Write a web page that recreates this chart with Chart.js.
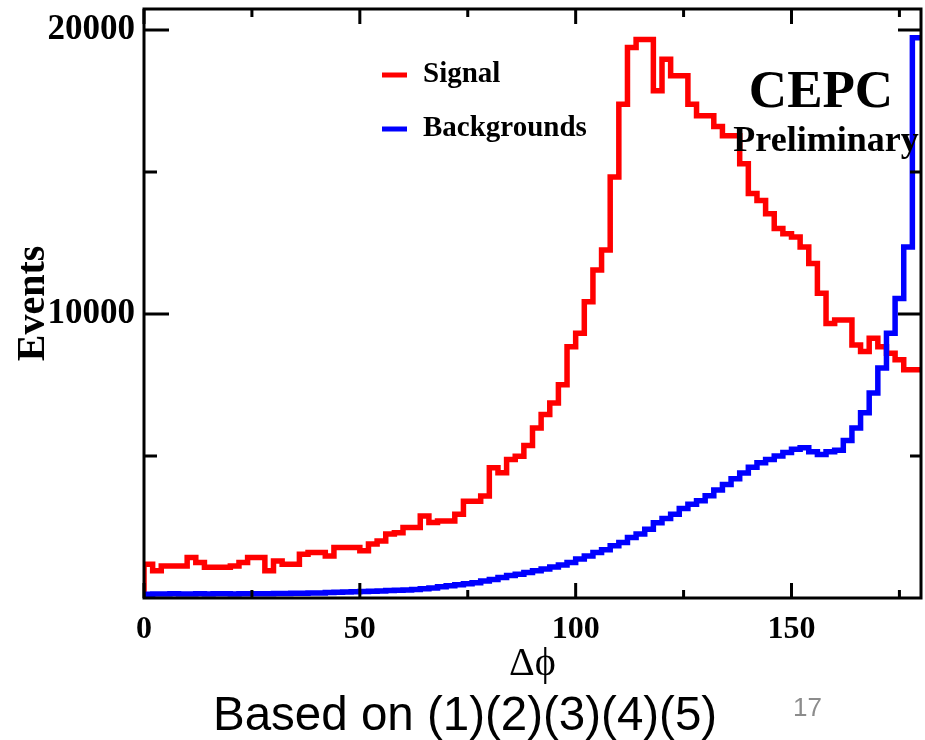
<!DOCTYPE html>
<html>
<head>
<meta charset="utf-8">
<script src="https://cdn.jsdelivr.net/npm/chart.js@4.4.0/dist/chart.umd.min.js"></script>
<style>
html, body { margin: 0; padding: 0; background: #fff; }
</style>
</head>
<body>
<canvas id="dphi_canvas" width="925" height="740"></canvas>
<script>
// histogram: 90 bins of 2 degrees, 0..180
var BIN_WIDTH = 2;
var signal = [
  1190, 960, 1130, 1130, 1130, 1430, 1250, 1080, 1080, 1080,
  1130, 1250, 1430, 1430, 960, 1300, 1190, 1190, 1540, 1600,
  1600, 1480, 1780, 1780, 1780, 1660, 1900, 2010, 2250, 2300,
  2480, 2480, 2890, 2660, 2710, 2710, 2950, 3410, 3410, 3590,
  4590, 4410, 4880, 4990, 5370, 5990, 6460, 6870, 7510, 8850,
  9320, 10430, 11550, 12250, 14820, 17390, 19380, 19670, 19670, 17860,
  18970, 18390, 18390, 17390, 16980, 16980, 16600, 16280, 16280, 15290,
  14240, 14000, 13530, 13010, 12830, 12710, 12360, 11780, 10730, 9670,
  9790, 9790, 8910, 8680, 9150, 8850, 8620, 8390, 8040, 8040
];
var backgrounds = [
  130, 140, 140, 150, 140, 140, 150, 140, 150, 150,
  140, 150, 150, 150, 150, 160, 160, 170, 170, 180,
  180, 190, 200, 210, 220, 230, 240, 250, 260, 270,
  280, 300, 330, 350, 400, 430, 470, 500, 540, 600,
  650, 720, 790, 840, 900, 960, 1020, 1090, 1160, 1250,
  1370, 1480, 1600, 1700, 1840, 1950, 2130, 2250, 2420, 2650,
  2800, 2950, 3150, 3300, 3420, 3600, 3800, 4000, 4200, 4400,
  4600, 4760, 4880, 5000, 5120, 5240, 5290, 5150, 5050, 5150,
  5200, 5550, 5990, 6520, 7220, 8100, 9320, 10550, 12360, 19730
];
var xTicks = [0, 50, 100, 150];
var xMinor = [25, 75, 125, 175];
var yTicks = [10000, 20000];
var yMinor = [5000, 15000];

// turn bin contents into step points (lower edges + closing edge)
function toSteps(vals) {
  var pts = [{x: 0, y: 0}];
  for (var i = 0; i < vals.length; i++) {
    pts.push({x: i * BIN_WIDTH, y: vals[i]});
  }
  pts.push({x: vals.length * BIN_WIDTH, y: vals[vals.length - 1]});
  return pts;
}

var serif = '"Liberation Serif", "Times New Roman", serif';

var framePlugin = {
  id: 'rootFrame',
  afterDatasetsDraw: function(chart) {
    var ctx = chart.ctx, a = chart.chartArea;
    var xs = chart.scales.x, ys = chart.scales.y;
    ctx.save();
    ctx.strokeStyle = '#000';
    ctx.lineWidth = 3;
    ctx.strokeRect(a.left, a.top, a.right - a.left, a.bottom - a.top);
    ctx.beginPath();
    xTicks.forEach(function(v) {
      var px = xs.getPixelForValue(v);
      ctx.moveTo(px, a.bottom); ctx.lineTo(px, a.bottom - 15);
      ctx.moveTo(px, a.top); ctx.lineTo(px, a.top + 15);
    });
    xMinor.forEach(function(v) {
      var px = xs.getPixelForValue(v);
      ctx.moveTo(px, a.bottom); ctx.lineTo(px, a.bottom - 8);
      ctx.moveTo(px, a.top); ctx.lineTo(px, a.top + 8);
    });
    yTicks.forEach(function(v) {
      var py = ys.getPixelForValue(v);
      ctx.moveTo(a.left, py); ctx.lineTo(a.left + 25, py);
      ctx.moveTo(a.right, py); ctx.lineTo(a.right - 23, py);
    });
    yMinor.forEach(function(v) {
      var py = ys.getPixelForValue(v);
      ctx.moveTo(a.left, py); ctx.lineTo(a.left + 13, py);
      ctx.moveTo(a.right, py); ctx.lineTo(a.right - 11, py);
    });
    ctx.stroke();

    // legend
    var rows = [{y: 75}, {y: 129}];
    chart.data.datasets.forEach(function(ds, i) {
      var r = rows[i];
      ctx.strokeStyle = ds.borderColor;
      ctx.lineWidth = 5;
      ctx.beginPath();
      ctx.moveTo(382, r.y); ctx.lineTo(407, r.y);
      ctx.stroke();
      ctx.fillStyle = '#000';
      ctx.font = 'bold 29px ' + serif;
      ctx.textAlign = 'left';
      ctx.textBaseline = 'middle';
      ctx.fillText(ds.label, 423, r.y);
    });

    // experiment label
    ctx.textAlign = 'center';
    ctx.textBaseline = 'middle';
    ctx.font = 'bold 53px ' + serif;
    ctx.fillText('CEPC', 821, 93);
    ctx.font = 'bold 36px ' + serif;
    ctx.fillText('Preliminary', 826, 142);
    ctx.restore();
  },
  afterDraw: function(chart) {
    var ctx = chart.ctx;
    ctx.save();
    ctx.fillStyle = '#000';
    ctx.textAlign = 'left';
    ctx.textBaseline = 'alphabetic';
    ctx.font = '47.5px "Liberation Sans", Arial, sans-serif';
    ctx.fillText('Based on (1)(2)(3)(4)(5)', 213, 730);
    ctx.fillStyle = '#8c8c8c';
    ctx.font = '26px "Liberation Sans", Arial, sans-serif';
    ctx.fillText('17', 793, 716);
    ctx.restore();
  }
};

var dphiChart = new Chart(document.getElementById('dphi_canvas'), {
  type: 'line',
  data: {
    datasets: [{
      label: 'Signal',
      data: toSteps(signal),
      borderColor: '#ff0000',
      borderWidth: 5.5,
      stepped: true,
      pointRadius: 0,
      fill: false,
      order: 1
    }, {
      label: 'Backgrounds',
      data: toSteps(backgrounds),
      borderColor: '#0000ff',
      borderWidth: 5.5,
      stepped: true,
      pointRadius: 0,
      fill: false,
      order: 0
    }]
  },
  options: {
    responsive: false,
    animation: false,
    layout: { padding: { left: 0, top: 9, right: 4, bottom: 0 } },
    plugins: {
      legend: { display: false },
      tooltip: { enabled: false }
    },
    scales: {
      x: {
        type: 'linear',
        min: 0,
        max: 180,
        afterBuildTicks: function(s) { s.ticks = xTicks.map(function(v) { return {value: v}; }); },
        afterFit: function(s) { s.height = 142; s.paddingLeft = 0; s.paddingRight = 0; },
        grid: { display: false },
        border: { display: false },
        ticks: {
          color: '#000',
          padding: 5,
          maxRotation: 0,
          autoSkip: false,
          callback: function(v) { return String(v); },
          font: { family: serif, size: 32, weight: 'bold' }
        },
        title: {
          display: true,
          text: 'Δϕ',
          color: '#000',
          font: { family: serif, size: 40 },
          padding: { top: 0, bottom: 52 }
        }
      },
      y: {
        min: 0,
        max: 20740,
        afterBuildTicks: function(s) { s.ticks = yTicks.map(function(v) { return {value: v}; }); },
        afterFit: function(s) { s.width = 144; s.paddingTop = 0; s.paddingBottom = 0; },
        grid: { display: false },
        border: { display: false },
        ticks: {
          color: '#000',
          padding: 1,
          callback: function(v) { return String(v); },
          font: { family: serif, size: 35, weight: 'bold' }
        },
        title: {
          display: true,
          text: 'Events',
          color: '#000',
          font: { family: serif, size: 40, weight: 'bold' },
          padding: { top: 10, bottom: 0 }
        }
      }
    }
  },
  plugins: [framePlugin]
});
</script>
</body>
</html>
